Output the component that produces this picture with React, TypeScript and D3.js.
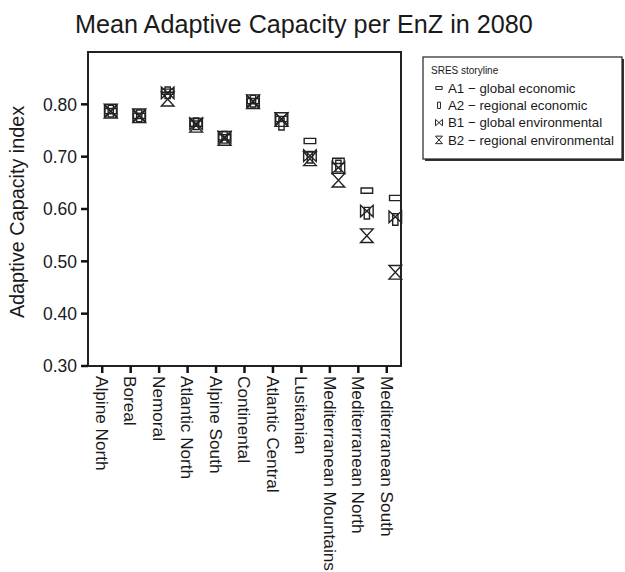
import React from "react";
import * as d3 from "d3";

const categories = [
  "Alpine North", "Boreal", "Nemoral", "Atlantic North", "Alpine South", "Continental",
  "Atlantic Central", "Lusitanian", "Mediterranean Mountains", "Mediterranean North", "Mediterranean South",
];
const seriesNames = ["A1 \u2212 global economic", "A2 \u2212 regional economic", "B1 \u2212 global environmental", "B2 \u2212 regional environmental"];
const seriesKeys = ["A1", "A2", "B1", "B2"];
const a1 = [0.787, 0.778, 0.824, 0.763, 0.737, 0.806, 0.772, 0.730, 0.692, 0.635, 0.621];
const a2 = [0.787, 0.778, 0.822, 0.763, 0.737, 0.806, 0.762, 0.699, 0.682, 0.592, 0.580];
const b1 = [0.787, 0.778, 0.822, 0.763, 0.737, 0.806, 0.772, 0.702, 0.679, 0.596, 0.585];
const b2 = [0.787, 0.778, 0.810, 0.760, 0.735, 0.805, 0.771, 0.696, 0.655, 0.549, 0.479];
const yTicks = [0.3, 0.4, 0.5, 0.6, 0.7, 0.8];
const title = "Mean Adaptive Capacity per EnZ in 2080";
const yLabel = "Adaptive Capacity index";
const legendTitle = "SRES storyline";

const FONT = "'Liberation Sans', Arial, Helvetica, sans-serif";

function markerPath(key: string, s: number): string {
  const w = 6 * s;
  if (key === "A1") return `M${-5.5 * s},${-2.5 * s}H${5.5 * s}V${2.5 * s}H${-5.5 * s}Z`;
  if (key === "A2") return `M${-2.5 * s},${-5.5 * s}H${2.5 * s}V${5.5 * s}H${-2.5 * s}Z`;
  if (key === "B1") return `M${-w},${-5.5 * s}L${w},${5.5 * s}L${w},${-5.5 * s}L${-w},${5.5 * s}Z`;
  return `M${-w},${-6.5 * s}L${w},${-6.5 * s}L${-w},${6.5 * s}L${w},${6.5 * s}Z`;
}

export default function App() {
  const W = 625, H = 572;
  const left = 88, right = 401, top = 52, bottom = 366;
  const x = d3.scaleBand<string>().domain(categories).range([left, right]).padding(0);
  const y = d3.scaleLinear().domain([0.3, 0.9]).range([bottom, top]);
  const bw = x.bandwidth();
  const cx = (c: string) => (x(c) as number) + bw / 2;
  const offset = bw * 0.3;
  const series = [a1, a2, b1, b2];

  return (
    <svg width={W} height={H} style={{ position: "absolute", left: 0, top: 0, background: "#fff" }} fontFamily={FONT}>
      <rect x={0} y={0} width={W} height={H} fill="#fff" />
      <text x={75} y={33} fontSize={25.2} fill="#1a1a1a">{title}</text>
      {/* frame */}
      <rect x={left} y={top} width={right - left} height={bottom - top} fill="none" stroke="#222" strokeWidth={2} />
      {/* y ticks */}
      {yTicks.map((t) => (
        <g key={t}>
          <line x1={left - 7} x2={left} y1={y(t)} y2={y(t)} stroke="#111" strokeWidth={2.5} />
          <text x={77} y={y(t)} dy="0.36em" textAnchor="end" fontSize={17.5} fill="#1a1a1a">{t.toFixed(2)}</text>
        </g>
      ))}
      <text transform={`translate(24,212) rotate(-90)`} textAnchor="middle" fontSize={19.8} fill="#1a1a1a">{yLabel}</text>
      {/* x ticks */}
      {categories.map((c) => (
        <g key={c}>
          <line x1={cx(c)} x2={cx(c)} y1={bottom} y2={bottom + 7} stroke="#111" strokeWidth={2.5} />
          <text transform={`translate(${cx(c)},${bottom + 10}) rotate(90)`} dy="0.36em" fontSize={17.2} fill="#1a1a1a">{c}</text>
        </g>
      ))}
      {/* markers */}
      {series.map((vals, si) => (
        <g key={si}>
          {vals.map((v, i) => (
            <path key={i} transform={`translate(${cx(categories[i]) + offset},${y(v)})`} d={markerPath(seriesKeys[si], 1.05)} fill="none" stroke="#222" strokeWidth={1.4} />
          ))}
        </g>
      ))}
      {/* legend */}
      <rect x={425} y={59} width={199} height={102} fill="#333" />
      <rect x={423} y={57} width={199} height={102} fill="#fff" stroke="#222" strokeWidth={1.2} />
      <text x={431} y={74} fontSize={10} fill="#1a1a1a">{legendTitle}</text>
      {seriesNames.map((n, i) => (
        <g key={n}>
          <path transform={`translate(439,${88 + i * 17.3})`} d={markerPath(seriesKeys[i], 0.58)} fill="none" stroke="#222" strokeWidth={1} />
          <text x={448} y={88 + i * 17.3} dy="0.36em" fontSize={13.3} fill="#1a1a1a">{n}</text>
        </g>
      ))}
    </svg>
  );
}
